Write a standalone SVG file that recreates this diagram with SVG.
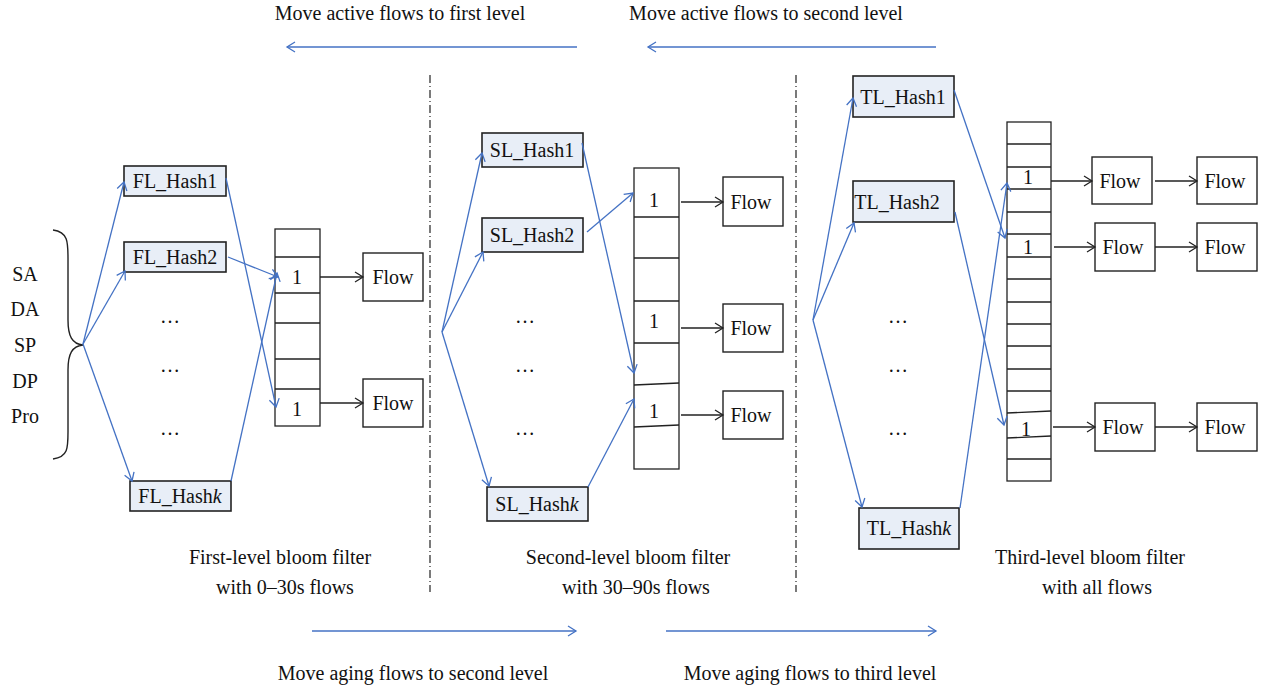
<svg xmlns="http://www.w3.org/2000/svg" width="1262" height="688" viewBox="0 0 1262 688">
<style>
text{font-family:"Liberation Serif","Times New Roman",serif;font-size:20px;fill:#111;text-anchor:middle;}
.hash{fill:#E8EEF7;stroke:#222;stroke-width:1.6;}
.box{fill:#fff;stroke:#222;stroke-width:1.4;}
.cell{stroke:#222;stroke-width:1.3;fill:none;}
.blue{stroke:#4472C4;stroke-width:1.3;fill:none;marker-end:url(#ab);}
.bline{stroke:#4472C4;stroke-width:1.3;fill:none;}
.blk{stroke:#222;stroke-width:1.3;fill:none;marker-end:url(#ak);}
.sep{stroke:#222;stroke-width:1.2;stroke-dasharray:8 3 1 3;}
</style>
<defs>
<marker id="ab" viewBox="-10 -6 12 12" refX="0" refY="0" markerWidth="12" markerHeight="12" markerUnits="userSpaceOnUse" orient="auto"><path d="M-8,-5 L0,0 L-8,5" fill="none" stroke="#4472C4" stroke-width="1.3"/></marker>
<marker id="ak" viewBox="-10 -6 12 12" refX="0" refY="0" markerWidth="12" markerHeight="12" markerUnits="userSpaceOnUse" orient="auto"><path d="M-8,-5 L0,0 L-8,5" fill="none" stroke="#222" stroke-width="1.3"/></marker>
</defs>
<rect width="1262" height="688" fill="#fff"/>

<g id="top-labels">
<text x="400" y="20">Move active flows to first level</text>
<text x="766" y="20">Move active flows to second level</text>
<text x="413" y="680">Move aging flows to second level</text>
<text x="810" y="680">Move aging flows to third level</text>
</g>

<g id="separators">
<line class="sep" x1="430" y1="75" x2="430" y2="592"/>
<line class="sep" x1="796" y1="75" x2="796" y2="592"/>
</g>

<g id="inputs">
<path d="M53,230 C68,232 68,242 68,258 L68,320 C68,336 72,344 83,345 C72,346 68,354 68,370 L68,432 C68,448 68,457 53,459" fill="none" stroke="#222" stroke-width="1.4"/>
<text x="25" y="281">SA</text>
<text x="25" y="316">DA</text>
<text x="25" y="352">SP</text>
<text x="25" y="388">DP</text>
<text x="25" y="423">Pro</text>
</g>

<!-- Level 1 -->
<g id="FL_Hash1"><rect class="hash" x="124" y="166" width="102" height="30"/><text x="175" y="188">FL_Hash1</text></g>
<g id="FL_Hash2"><rect class="hash" x="124" y="242" width="102" height="30"/><text x="175" y="264">FL_Hash2</text></g>
<g id="FL_Hashk"><rect class="hash" x="130" y="481" width="101" height="30"/><text x="180" y="503">FL_Hash<tspan font-style="italic">k</tspan></text></g>
<g id="FL_dots"><text x="170" y="323">…</text><text x="170" y="372">…</text><text x="170" y="435">…</text></g>
<g id="FL_array">
<rect class="cell" x="275" y="229" width="45" height="197"/>
<path class="cell" d="M275,257H320M275,293H320M275,323H320M275,359H320M275,389H320"/>
<text x="297" y="284">1</text><text x="297" y="416">1</text>
</g>
<g id="FL_Flow1"><rect class="box" x="363" y="253" width="60" height="48"/><text x="393" y="284">Flow</text></g>
<g id="FL_Flow2"><rect class="box" x="363" y="379" width="60" height="48"/><text x="393" y="410">Flow</text></g>
<g id="FL_label"><text x="280" y="564">First-level bloom filter</text><text x="285" y="594">with 0–30s flows</text></g>

<!-- Level 2 -->
<g id="SL_Hash1"><rect class="hash" x="482" y="133" width="101" height="34"/><text x="532" y="157">SL_Hash1</text></g>
<g id="SL_Hash2"><rect class="hash" x="482" y="218" width="101" height="34"/><text x="532" y="242">SL_Hash2</text></g>
<g id="SL_Hashk"><rect class="hash" x="487" y="487" width="101" height="34"/><text x="537" y="511">SL_Hash<tspan font-style="italic">k</tspan></text></g>
<g id="SL_dots"><text x="525" y="323">…</text><text x="525" y="372">…</text><text x="525" y="435">…</text></g>
<g id="SL_array">
<rect class="cell" x="634" y="168" width="45" height="301"/>
<path class="cell" d="M634,217H679M634,258H679M634,301H679M634,343H679M634,385L679,383M634,427L679,425"/>
<text x="654" y="207">1</text><text x="654" y="328">1</text><text x="654" y="418">1</text>
</g>
<g id="SL_Flow1"><rect class="box" x="723" y="177" width="60" height="49"/><text x="751" y="209">Flow</text></g>
<g id="SL_Flow2"><rect class="box" x="723" y="304" width="60" height="48"/><text x="751" y="335">Flow</text></g>
<g id="SL_Flow3"><rect class="box" x="723" y="391" width="60" height="48"/><text x="751" y="422">Flow</text></g>
<g id="SL_label"><text x="628" y="564">Second-level bloom filter</text><text x="636" y="594">with 30–90s flows</text></g>

<!-- Level 3 -->
<g id="TL_Hash1"><rect class="hash" x="853" y="76" width="101" height="41"/><text x="903" y="104">TL_Hash1</text></g>
<g id="TL_Hash2"><rect class="hash" x="853" y="181" width="101" height="41"/><text x="897" y="209">TL_Hash2</text></g>
<g id="TL_Hashk"><rect class="hash" x="859" y="508" width="100" height="41"/><text x="909" y="535">TL_Hash<tspan font-style="italic">k</tspan></text></g>
<g id="TL_dots"><text x="898" y="323">…</text><text x="898" y="372">…</text><text x="898" y="435">…</text></g>
<g id="TL_array">
<rect class="cell" x="1007" y="122" width="44" height="359"/>
<path class="cell" d="M1007,144H1051M1007,167H1051M1007,189H1051M1007,212H1051M1007,234H1051M1007,257H1051M1007,279H1051M1007,302H1051M1007,324H1051M1007,346H1051M1007,369H1051M1007,391H1051M1007,413L1051,411M1007,438L1051,436M1007,459H1051"/>
<text x="1028" y="184">1</text><text x="1028" y="254">1</text><text x="1026" y="436">1</text>
</g>
<g id="TL_Flow1a"><rect class="box" x="1092" y="157" width="60" height="47"/><text x="1120" y="188">Flow</text></g>
<g id="TL_Flow1b"><rect class="box" x="1197" y="157" width="60" height="47"/><text x="1225" y="188">Flow</text></g>
<g id="TL_Flow2a"><rect class="box" x="1095" y="223" width="60" height="48"/><text x="1123" y="254">Flow</text></g>
<g id="TL_Flow2b"><rect class="box" x="1197" y="223" width="60" height="48"/><text x="1225" y="254">Flow</text></g>
<g id="TL_Flow3a"><rect class="box" x="1095" y="403" width="60" height="48"/><text x="1123" y="434">Flow</text></g>
<g id="TL_Flow3b"><rect class="box" x="1197" y="403" width="60" height="48"/><text x="1225" y="434">Flow</text></g>
<g id="TL_label"><text x="1090" y="564">Third-level bloom filter</text><text x="1097" y="594">with all flows</text></g>

<g id="connectors">
<!-- migration arrows -->
<line class="blue" x1="577" y1="47" x2="287" y2="47"/>
<line class="blue" x1="936" y1="47" x2="648" y2="47"/>
<line class="blue" x1="312" y1="631" x2="576" y2="631"/>
<line class="blue" x1="666" y1="631" x2="936" y2="631"/>
<!-- level 1 -->
<line class="blue" x1="83" y1="344" x2="124" y2="182"/>
<line class="blue" x1="83" y1="344" x2="125" y2="271"/>
<line class="blue" x1="83" y1="344" x2="132" y2="481"/>
<line class="blue" x1="226" y1="178" x2="276" y2="407"/>
<line class="blue" x1="228" y1="257" x2="278" y2="277"/>
<line class="blue" x1="231" y1="481" x2="277" y2="273"/>
<line class="blk" x1="320" y1="277" x2="363" y2="277"/>
<line class="blk" x1="320" y1="403" x2="363" y2="403"/>
<!-- level 2 -->
<line class="blue" x1="442" y1="332" x2="482" y2="153"/>
<line class="blue" x1="442" y1="332" x2="483" y2="252"/>
<line class="blue" x1="442" y1="332" x2="489" y2="486"/>
<line class="blue" x1="582" y1="143" x2="634" y2="373"/>
<line class="blue" x1="587" y1="232" x2="633" y2="193"/>
<line class="blue" x1="588" y1="487" x2="634" y2="399"/>
<line class="blk" x1="681" y1="202" x2="723" y2="202"/>
<line class="blk" x1="681" y1="328" x2="723" y2="328"/>
<line class="blk" x1="681" y1="415" x2="723" y2="415"/>
<!-- level 3 -->
<line class="blue" x1="813" y1="320" x2="853" y2="98"/>
<line class="blue" x1="813" y1="320" x2="854" y2="223"/>
<line class="blue" x1="813" y1="320" x2="862" y2="507"/>
<line class="blue" x1="954" y1="90" x2="1005" y2="238"/>
<line class="blue" x1="955" y1="212" x2="1004" y2="425"/>
<line class="blue" x1="960" y1="508" x2="1007" y2="183"/>
<line class="blk" x1="1051" y1="181" x2="1092" y2="181"/>
<line class="blk" x1="1155" y1="181" x2="1197" y2="181"/>
<line class="blk" x1="1054" y1="247" x2="1095" y2="247"/>
<line class="blk" x1="1155" y1="247" x2="1197" y2="247"/>
<line class="blk" x1="1053" y1="427" x2="1095" y2="427"/>
<line class="blk" x1="1155" y1="427" x2="1197" y2="427"/>
</g>
</svg>
